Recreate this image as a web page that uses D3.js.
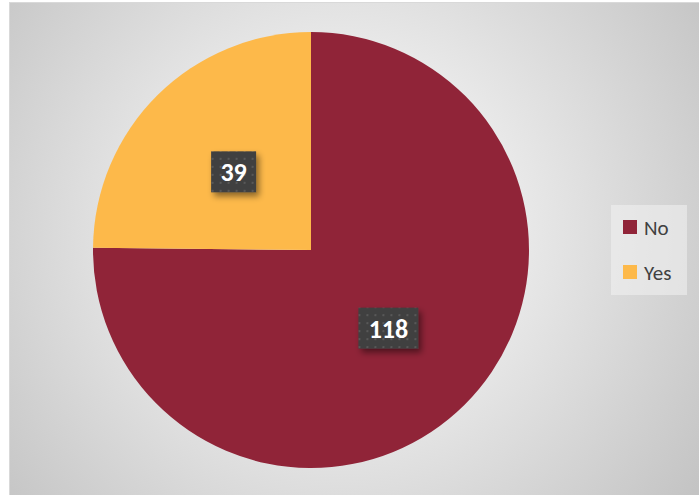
<!DOCTYPE html>
<html>
  <head>
    <meta charset="utf-8">
    <title>pie</title>
    <script src="https://cdn.jsdelivr.net/npm/d3@7"></script>
    <style>
body { margin: 0; background: #fff; }
text { font-family: Calibri, Carlito, Lato, sans-serif; }
.legend text { font-size: 21px; fill: #404040; }
.label text { font-size: 26px; font-weight: bold; fill: #fff; }
    </style>
  </head>
  <body>
    <script>
var categories = ["No", "Yes"];
var values = [118, 39];
var colors = ["#902438", "#FDB94A"];

var width = 699,
    height = 495;

var svg = d3.select("body")
  .append("svg")
  .attr("width", width)
  .attr("height", height);

var defs = svg.append("defs");

var bg = defs.append("radialGradient")
  .attr("id", "bg")
  .attr("gradientUnits", "userSpaceOnUse")
  .attr("cx", 340).attr("cy", 230).attr("r", 440);
bg.append("stop").attr("offset", "0").attr("stop-color", "#ffffff");
bg.append("stop").attr("offset", "0.2").attr("stop-color", "#f6f6f6");
bg.append("stop").attr("offset", "1").attr("stop-color", "#c4c4c4");

var pat = defs.append("pattern")
  .attr("id", "dots")
  .attr("patternUnits", "userSpaceOnUse")
  .attr("width", 8).attr("height", 8);
pat.append("rect").attr("width", 8).attr("height", 8).attr("fill", "#404040");
pat.append("rect").attr("x", 2).attr("y", 2).attr("width", 2).attr("height", 2).attr("fill", "#585858");

var sh = defs.append("filter").attr("id", "shadow")
  .attr("x", "-30%").attr("y", "-30%").attr("width", "160%").attr("height", "160%");
sh.append("feDropShadow")
  .attr("dx", 3).attr("dy", 4).attr("stdDeviation", 3)
  .attr("flood-color", "#000").attr("flood-opacity", 0.45);

// chart area
svg.append("rect")
  .attr("x", 9.5).attr("y", 2.5)
  .attr("width", width).attr("height", height)
  .attr("fill", "url(#bg)")
  .attr("stroke", "#d9d9d9");

var cx = 311, cy = 250, r = 218;

var pie = d3.pie().sort(null).value(function(d) { return d; });
var arcs = pie(values);
var arc = d3.arc().innerRadius(0).outerRadius(r);
var labelArc = d3.arc().innerRadius(110).outerRadius(110);

var g = svg.append("g").attr("transform", "translate(" + cx + "," + cy + ")");

g.selectAll("path.slice")
  .data(arcs)
  .enter().append("path")
  .attr("class", "slice")
  .attr("d", arc)
  .attr("fill", function(d, i) { return colors[i]; });

var labels = g.selectAll("g.label")
  .data(arcs)
  .enter().append("g")
  .attr("class", "label")
  .attr("transform", function(d) {
    var c = labelArc.centroid(d);
    return "translate(" + c[0] + "," + c[1] + ")";
  });

labels.each(function(d) {
  var l = d3.select(this);
  var w = String(d.data).length * 15 + 15;
  l.append("rect")
    .attr("x", -w / 2).attr("y", -20.5)
    .attr("width", w).attr("height", 41)
    .attr("fill", "url(#dots)")
    .attr("filter", "url(#shadow)");
  l.append("text")
    .attr("text-anchor", "middle")
    .attr("dy", "0.36em")
    .text(d.data);
});

// legend
var legend = svg.append("g").attr("class", "legend")
  .attr("transform", "translate(611,205)");

legend.append("rect")
  .attr("width", 76).attr("height", 90)
  .attr("fill", "#f2f2f2").attr("fill-opacity", 0.55);

var item = legend.selectAll("g.item")
  .data(categories)
  .enter().append("g")
  .attr("class", "item")
  .attr("transform", function(d, i) { return "translate(12," + (15 + i * 45) + ")"; });

item.append("rect")
  .attr("width", 14).attr("height", 14)
  .attr("fill", function(d, i) { return colors[i]; });

item.append("text")
  .attr("x", 21).attr("y", 7)
  .attr("dy", "0.36em")
  .text(function(d) { return d; });
    </script>
  </body>
</html>
